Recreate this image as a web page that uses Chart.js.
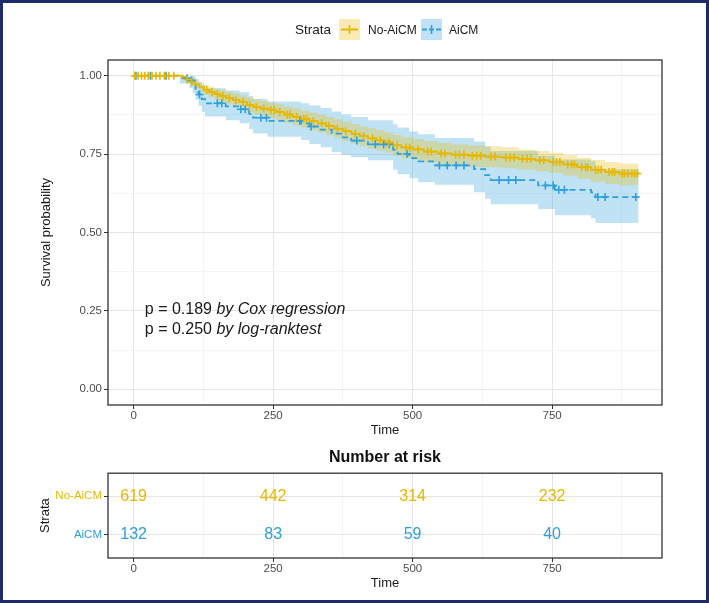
<!DOCTYPE html>
<html lang="en">
<head>
<meta charset="UTF-8">
<title>Survival by AiCM</title>
<script src="https://cdn.jsdelivr.net/npm/chart.js"></script>
<style>
  body { margin: 0; background: #fff; font-family: "Liberation Sans", Arial, sans-serif; }
  #wrap { position: relative; width: 709px; height: 603px; overflow: hidden; background: #fff; }
  #km { position: absolute; left: 0; top: 0; }
  #risk { position: absolute; left: 0; top: 440px; }
  #frame { position: absolute; left: 0; top: 0; width: 709px; height: 603px; box-sizing: border-box;
           border: 3px solid #1d2b6b; pointer-events: none; }
  .lg { position: absolute; top: 21px; line-height: 18px; color: #1a1a1a; white-space: nowrap; }
  .key { position: absolute; top: 19px; }
</style>
</head>
<body>
<div id="wrap">
  <canvas id="km" width="709" height="438"></canvas>
  <canvas id="risk" width="709" height="151"></canvas>

  <!-- legend -->
  <div class="lg" style="left:295px; font-size:13.5px;">Strata</div>
  <svg class="key" style="left:339px" width="21" height="21">
    <rect x="0" y="0" width="21" height="21" fill="rgba(231,184,0,0.3)"/>
    <line x1="2" y1="10.5" x2="19" y2="10.5" stroke="#E7B800" stroke-width="2"/>
    <line x1="10.5" y1="6" x2="10.5" y2="15" stroke="#E7B800" stroke-width="1.6"/>
  </svg>
  <div class="lg" style="left:368px; font-size:12px;">No-AiCM</div>
  <svg class="key" style="left:421px" width="21" height="21">
    <rect x="0" y="0" width="21" height="21" fill="rgba(46,159,223,0.3)"/>
    <line x1="1" y1="10.5" x2="20" y2="10.5" stroke="#2E9FDF" stroke-width="2" stroke-dasharray="5 2"/>
    <line x1="10.5" y1="6" x2="10.5" y2="15" stroke="#2E9FDF" stroke-width="1.6"/>
  </svg>
  <div class="lg" style="left:449px; font-size:12px;">AiCM</div>

  <div id="frame"></div>
</div>

<script>
// ---------------- data ----------------
const timeTicks = [0, 250, 500, 750];
const timeMinor = [125, 375, 625, 875];
const survTicks = [0, 0.25, 0.5, 0.75, 1];
const survMinor = [0.125, 0.375, 0.625, 0.875];

// No-AiCM (step times, survival, 95% CI)
const noTime  = [0, 88, 95, 102, 110, 118, 126, 135, 145, 155, 165, 178, 190, 203, 215, 228, 242, 256, 270, 285,
                 300, 315, 330, 345, 360, 375, 390, 405, 420, 435, 450, 465, 480, 500, 520, 545, 570, 600, 630, 660,
                 690, 720, 745, 770, 795, 820, 845, 870, 905];
const noSurv  = [1.000, 0.995, 0.988, 0.980, 0.972, 0.963, 0.955, 0.948, 0.941, 0.935, 0.929, 0.922, 0.916, 0.907, 0.900,
                 0.895, 0.890, 0.884, 0.876, 0.869, 0.862, 0.855, 0.848, 0.840, 0.831, 0.823, 0.815, 0.807, 0.800, 0.794,
                 0.787, 0.778, 0.771, 0.765, 0.758, 0.752, 0.748, 0.745, 0.742, 0.739, 0.735, 0.730, 0.725, 0.717, 0.708,
                 0.700, 0.693, 0.688, 0.686];
const noUpper = [1.000, 1.000, 0.996, 0.991, 0.985, 0.978, 0.971, 0.965, 0.959, 0.954, 0.949, 0.943, 0.938, 0.930, 0.924,
                 0.919, 0.914, 0.909, 0.902, 0.896, 0.889, 0.883, 0.876, 0.869, 0.861, 0.853, 0.846, 0.838, 0.832, 0.826,
                 0.819, 0.811, 0.804, 0.798, 0.792, 0.786, 0.781, 0.777, 0.775, 0.772, 0.765, 0.760, 0.754, 0.746, 0.738,
                 0.731, 0.725, 0.720, 0.718];
const noLower = [1.000, 0.990, 0.980, 0.969, 0.959, 0.948, 0.939, 0.931, 0.923, 0.916, 0.909, 0.901, 0.894, 0.884, 0.876,
                 0.870, 0.865, 0.858, 0.849, 0.841, 0.834, 0.826, 0.819, 0.810, 0.800, 0.792, 0.783, 0.775, 0.767, 0.761,
                 0.754, 0.744, 0.737, 0.731, 0.723, 0.717, 0.712, 0.709, 0.708, 0.705, 0.701, 0.695, 0.690, 0.681, 0.671,
                 0.662, 0.655, 0.651, 0.649];
const noCensor = [2, 8, 14, 20, 26, 33, 40, 47, 55, 63, 72, 96, 104, 131, 140, 150, 160, 171, 183, 196, 208, 220, 233,
                  246, 252, 262, 275, 280, 292, 305, 310, 322, 337, 350, 365, 380, 397, 412, 428, 442, 457, 472, 488,
                  495, 510, 527, 533, 551, 558, 577, 584, 592, 607, 615, 622, 640, 648, 667, 675, 682, 697, 705, 712,
                  728, 735, 752, 758, 764, 778, 785, 790, 803, 810, 814, 828, 833, 838, 852, 858, 862, 876, 880, 886,
                  893, 898, 903];

// AiCM
const aiTime  = [0, 83, 100, 106, 111, 116, 122, 128, 165, 190, 207, 214, 240, 300, 315, 335, 355, 372, 390, 420,
                 465, 473, 494, 510, 540, 610, 630, 640, 725, 755, 820, 828, 905];
const aiSurv  = [1.000, 0.992, 0.985, 0.972, 0.955, 0.940, 0.925, 0.912, 0.902, 0.893, 0.878, 0.866, 0.856, 0.848, 0.838,
                 0.828, 0.815, 0.803, 0.793, 0.781, 0.764, 0.751, 0.737, 0.727, 0.714, 0.702, 0.683, 0.667, 0.650, 0.636,
                 0.628, 0.613, 0.613];
const aiUpper = [1.000, 1.000, 1.000, 0.998, 0.990, 0.980, 0.970, 0.960, 0.953, 0.947, 0.935, 0.926, 0.918, 0.912, 0.905,
                 0.897, 0.886, 0.876, 0.868, 0.858, 0.845, 0.835, 0.822, 0.813, 0.801, 0.790, 0.774, 0.760, 0.745, 0.733,
                 0.727, 0.702, 0.702];
const aiLower = [1.000, 0.975, 0.960, 0.944, 0.924, 0.904, 0.885, 0.870, 0.858, 0.848, 0.830, 0.816, 0.805, 0.795, 0.782,
                 0.772, 0.756, 0.748, 0.740, 0.730, 0.700, 0.686, 0.673, 0.660, 0.652, 0.628, 0.608, 0.590, 0.575, 0.555,
                 0.545, 0.530, 0.530];
const aiCensor = [4, 30, 58, 96, 104, 118, 150, 158, 192, 200, 228, 238, 298, 318, 400, 433, 448, 458, 490, 548, 562,
                  578, 592, 655, 672, 685, 738, 752, 762, 772, 832, 845, 900];

// number at risk table
const strata = ['No-AiCM', 'AiCM'];
const riskTimes = [0, 250, 500, 750];
const noRisk = [619, 442, 314, 232];
const aiRisk = [132, 83, 59, 40];

// ---------------- styles ----------------
const ORANGE = '#E7B800';
const BLUE = '#2E9FDF';
const FONT = '"Liberation Sans", Arial, sans-serif';
Chart.defaults.font.family = FONT;

function steps(times, vals) {
  return times.map((t, i) => ({ x: t, y: vals[i] }));
}
// survival value at a censoring time (last step at or before t)
function censorPoints(cens, times, vals) {
  return cens.map(t => {
    let k = 0;
    for (let i = 0; i < times.length; i++) if (times[i] <= t) k = i;
    return { x: t, y: vals[k] };
  });
}

const allTimeTicks = timeTicks.concat(timeMinor).sort((a, b) => a - b);
const isMajorTime = v => timeTicks.includes(v);

function xScale() {
  return {
    type: 'linear', min: -46, max: 947,
    afterBuildTicks: s => { s.ticks = allTimeTicks.map(v => ({ value: v })); },
    afterFit: s => { s.height = 33; },
    border: { display: false },
    grid: {
      color: c => isMajorTime(c.tick.value) ? '#E6E6E6' : '#F1F1F1',
      lineWidth: c => isMajorTime(c.tick.value) ? 1 : 0.8,
      tickColor: c => isMajorTime(c.tick.value) ? '#333' : 'rgba(0,0,0,0)',
      tickLength: 4
    },
    ticks: {
      autoSkip: false, maxRotation: 0, padding: 0,
      color: '#4D4D4D', font: { size: 11.5 },
      callback: v => isMajorTime(v) ? String(v) : ''
    },
    title: { display: true, text: 'Time', color: '#1a1a1a', font: { size: 13 }, padding: { top: 0, bottom: 0 } }
  };
}

const panelBox = {
  id: 'panelBox',
  afterDraw(chart) {
    const a = chart.chartArea, ctx = chart.ctx;
    ctx.save();
    ctx.strokeStyle = '#333';
    ctx.lineWidth = 1.3;
    ctx.strokeRect(a.left, a.top, a.right - a.left, a.bottom - a.top);
    ctx.restore();
  }
};

const pText = {
  id: 'pText',
  afterDatasetsDraw(chart) {
    const ctx = chart.ctx, x = chart.scales.x, y = chart.scales.y;
    const lines = [['p = 0.189 ', 'by Cox regression', 0.255], ['p = 0.250 ', 'by log-ranktest', 0.19]];
    ctx.save();
    ctx.fillStyle = '#1a1a1a';
    ctx.textBaseline = 'middle';
    lines.forEach(([a, b, v]) => {
      const px = x.getPixelForValue(20), py = y.getPixelForValue(v);
      ctx.font = '16px ' + FONT;
      ctx.fillText(a, px, py);
      const w = ctx.measureText(a).width;
      ctx.font = 'italic 16px ' + FONT;
      ctx.fillText(b, px + w, py);
    });
    ctx.restore();
  }
};

// ---------------- KM plot ----------------
const allSurvTicks = survTicks.concat(survMinor).sort((a, b) => a - b);
const isMajorSurv = v => survTicks.some(t => Math.abs(t - v) < 1e-9);

new Chart(document.getElementById('km'), {
  type: 'line',
  data: {
    datasets: [
      { type: 'scatter', label: 'No-AiCM censor', data: censorPoints(noCensor, noTime, noSurv),
        pointStyle: 'cross', pointRadius: 4, borderColor: ORANGE, borderWidth: 1.6, order: 0 },
      { type: 'scatter', label: 'AiCM censor', data: censorPoints(aiCensor, aiTime, aiSurv),
        pointStyle: 'cross', pointRadius: 4, borderColor: BLUE, borderWidth: 1.6, order: 1 },
      { label: 'No-AiCM', data: steps(noTime, noSurv), stepped: true, borderColor: ORANGE,
        borderWidth: 1.8, pointRadius: 0, fill: false, order: 2 },
      { label: 'AiCM', data: steps(aiTime, aiSurv), stepped: true, borderColor: BLUE, borderDash: [6, 4],
        borderWidth: 1.8, pointRadius: 0, fill: false, order: 3 },
      { label: 'No-AiCM upper', data: steps(noTime, noUpper), stepped: true, borderWidth: 0,
        borderColor: 'rgba(0,0,0,0)', pointRadius: 0, fill: 5, backgroundColor: 'rgba(231,184,0,0.3)', order: 4 },
      { label: 'No-AiCM lower', data: steps(noTime, noLower), stepped: true, borderWidth: 0,
        borderColor: 'rgba(0,0,0,0)', pointRadius: 0, fill: false, order: 5 },
      { label: 'AiCM upper', data: steps(aiTime, aiUpper), stepped: true, borderWidth: 0,
        borderColor: 'rgba(0,0,0,0)', pointRadius: 0, fill: 7, backgroundColor: 'rgba(46,159,223,0.3)', order: 6 },
      { label: 'AiCM lower', data: steps(aiTime, aiLower), stepped: true, borderWidth: 0,
        borderColor: 'rgba(0,0,0,0)', pointRadius: 0, fill: false, order: 7 }
    ]
  },
  options: {
    responsive: false,
    animation: false,
    layout: { padding: { left: 0, top: 60, right: 47, bottom: 0 } },
    plugins: { legend: { display: false }, tooltip: { enabled: false }, title: { display: false } },
    scales: {
      x: xScale(),
      y: {
        type: 'linear', min: -0.05, max: 1.05,
        afterBuildTicks: s => { s.ticks = allSurvTicks.map(v => ({ value: v })); },
        afterFit: s => { s.width = 108; },
        border: { display: false },
        grid: {
          color: c => isMajorSurv(c.tick.value) ? '#E6E6E6' : '#F1F1F1',
          lineWidth: c => isMajorSurv(c.tick.value) ? 1 : 0.8,
          tickColor: c => isMajorSurv(c.tick.value) ? '#333' : 'rgba(0,0,0,0)',
          tickLength: 4
        },
        ticks: {
          autoSkip: false, padding: 2, color: '#4D4D4D', font: { size: 11.5 },
          callback: v => isMajorSurv(v) ? v.toFixed(2) : ''
        },
        title: { display: true, text: 'Survival probability', color: '#1a1a1a', font: { size: 13 },
                 padding: { top: 39, bottom: 0 } }
      }
    }
  },
  plugins: [panelBox, pText]
});

// ---------------- risk table ----------------
const riskLabels = {
  id: 'riskLabels',
  afterDatasetsDraw(chart) {
    const ctx = chart.ctx;
    ctx.save();
    ctx.font = '16px ' + FONT;
    ctx.textAlign = 'center';
    ctx.textBaseline = 'middle';
    chart.data.datasets.forEach((ds, di) => {
      const meta = chart.getDatasetMeta(di);
      ctx.fillStyle = ds.textColor;
      meta.data.forEach((pt, i) => ctx.fillText(String(ds.data[i].n), pt.x, pt.y));
    });
    ctx.restore();
  }
};

new Chart(document.getElementById('risk'), {
  type: 'scatter',
  data: {
    datasets: [
      { label: strata[0], data: riskTimes.map((t, i) => ({ x: t, y: 2, n: noRisk[i] })), pointRadius: 0, textColor: ORANGE },
      { label: strata[1], data: riskTimes.map((t, i) => ({ x: t, y: 1, n: aiRisk[i] })), pointRadius: 0, textColor: BLUE }
    ]
  },
  options: {
    responsive: false,
    animation: false,
    layout: { padding: { left: 0, top: 0, right: 47, bottom: 0 } },
    plugins: {
      legend: { display: false }, tooltip: { enabled: false },
      title: { display: true, text: 'Number at risk', fullSize: false, color: '#111',
               font: { size: 16, weight: 'bold' }, padding: { top: 8, bottom: 6 } }
    },
    scales: {
      x: xScale(),
      y: {
        type: 'linear', min: 0.4, max: 2.6,
        afterBuildTicks: s => { s.ticks = [{ value: 1 }, { value: 2 }]; },
        afterFit: s => { s.width = 108; },
        border: { display: false },
        grid: { color: '#E6E6E6', lineWidth: 1, tickColor: '#333', tickLength: 4 },
        ticks: {
          autoSkip: false, padding: 2, font: { size: 11.5 },
          color: c => c.tick.value === 2 ? ORANGE : BLUE,
          callback: v => v === 2 ? strata[0] : strata[1]
        },
        title: { display: true, text: 'Strata', color: '#1a1a1a', font: { size: 13 }, padding: { top: 38, bottom: 0 } }
      }
    }
  },
  plugins: [panelBox, riskLabels]
});
</script>
</body>
</html>
